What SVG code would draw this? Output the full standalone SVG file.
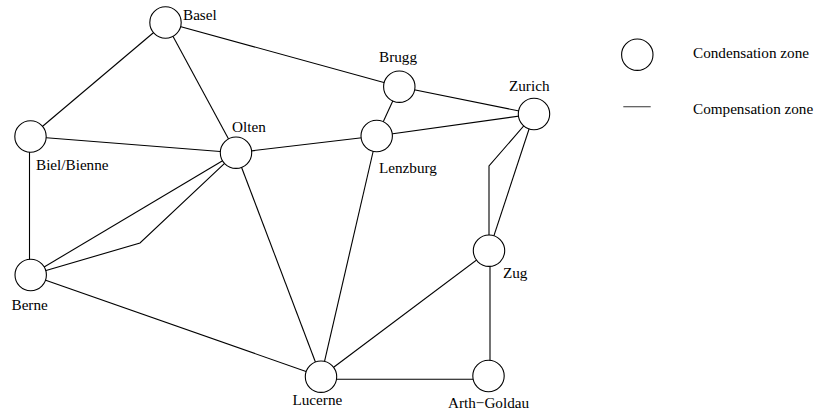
<svg xmlns="http://www.w3.org/2000/svg" width="815" height="412" viewBox="0 0 815 412">
<style>
.e{stroke:#000;stroke-width:1.1;fill:none}
.n{fill:#fff;stroke:#000;stroke-width:1.1}
.t{font-family:'Liberation Serif','Times New Roman','DejaVu Serif',serif;font-size:15.2px;fill:#000}
</style>
<rect width="815" height="412" fill="#fff"/>
<g id="connectors">
<line class="e" x1="165.5" y1="22.5" x2="30.5" y2="136.5"/>
<line class="e" x1="165.5" y1="22.5" x2="236" y2="152.7"/>
<line class="e" x1="165.5" y1="22.5" x2="399.3" y2="86.7"/>
<line class="e" x1="30.5" y1="136.5" x2="236" y2="152.7"/>
<line class="e" x1="29.5" y1="136.5" x2="29.5" y2="275"/>
<line class="e" x1="236" y1="152.7" x2="376.7" y2="136"/>
<line class="e" x1="236" y1="152.7" x2="30.7" y2="275"/>
<polyline class="e" points="236,152.7 140,243 30.7,275"/>
<line class="e" x1="236" y1="152.7" x2="321" y2="376.7"/>
<line class="e" x1="399.3" y1="86.7" x2="376.7" y2="136"/>
<line class="e" x1="399.3" y1="86.7" x2="534" y2="114"/>
<line class="e" x1="376.7" y1="136" x2="534" y2="114"/>
<line class="e" x1="376.7" y1="136" x2="321" y2="376.7"/>
<line class="e" x1="534" y1="114" x2="489" y2="250.7"/>
<polyline class="e" points="534,114 489,166 489,250.7"/>
<line class="e" x1="489" y1="250.7" x2="321" y2="376.7"/>
<line class="e" x1="490" y1="250.7" x2="490" y2="376"/>
<line class="e" x1="321" y1="379.3" x2="489" y2="379.3"/>
<line class="e" x1="30.7" y1="275" x2="321" y2="376.7"/>
</g>
<g id="basel"><circle class="n" cx="165.5" cy="22.5" r="15.7"/><text class="t" x="183" y="20">Basel</text></g>
<g id="biel"><circle class="n" cx="30.5" cy="136.5" r="15.7"/><text class="t" x="36" y="170">Biel/Bienne</text></g>
<g id="olten"><circle class="n" cx="236" cy="152.7" r="15.7"/><text class="t" x="232" y="132">Olten</text></g>
<g id="brugg"><circle class="n" cx="399.3" cy="86.7" r="15.7"/><text class="t" x="379" y="62">Brugg</text></g>
<g id="lenzburg"><circle class="n" cx="376.7" cy="136" r="15.7"/><text class="t" x="379" y="173">Lenzburg</text></g>
<g id="zurich"><circle class="n" cx="534" cy="114" r="15.7"/><text class="t" x="509" y="91">Zurich</text></g>
<g id="zug"><circle class="n" cx="489" cy="250.7" r="15.7"/><text class="t" x="503" y="278">Zug</text></g>
<g id="berne"><circle class="n" cx="30.7" cy="275" r="15.7"/><text class="t" x="11.5" y="310">Berne</text></g>
<g id="lucerne"><circle class="n" cx="321" cy="376.7" r="15.7"/><text class="t" x="292.5" y="405">Lucerne</text></g>
<g id="arth-goldau"><circle class="n" cx="488.5" cy="376" r="15.7"/><text class="t" x="448" y="408">Arth−Goldau</text></g>
<g id="legend">
<circle class="n" cx="637.3" cy="54.7" r="15.7"/>
<text class="t" x="693" y="58">Condensation zone</text>
<line x1="623.3" y1="106.7" x2="650.7" y2="106.7" stroke="#555" stroke-width="1.2"/>
<text class="t" x="693" y="114">Compensation zone</text>
</g>
</svg>
